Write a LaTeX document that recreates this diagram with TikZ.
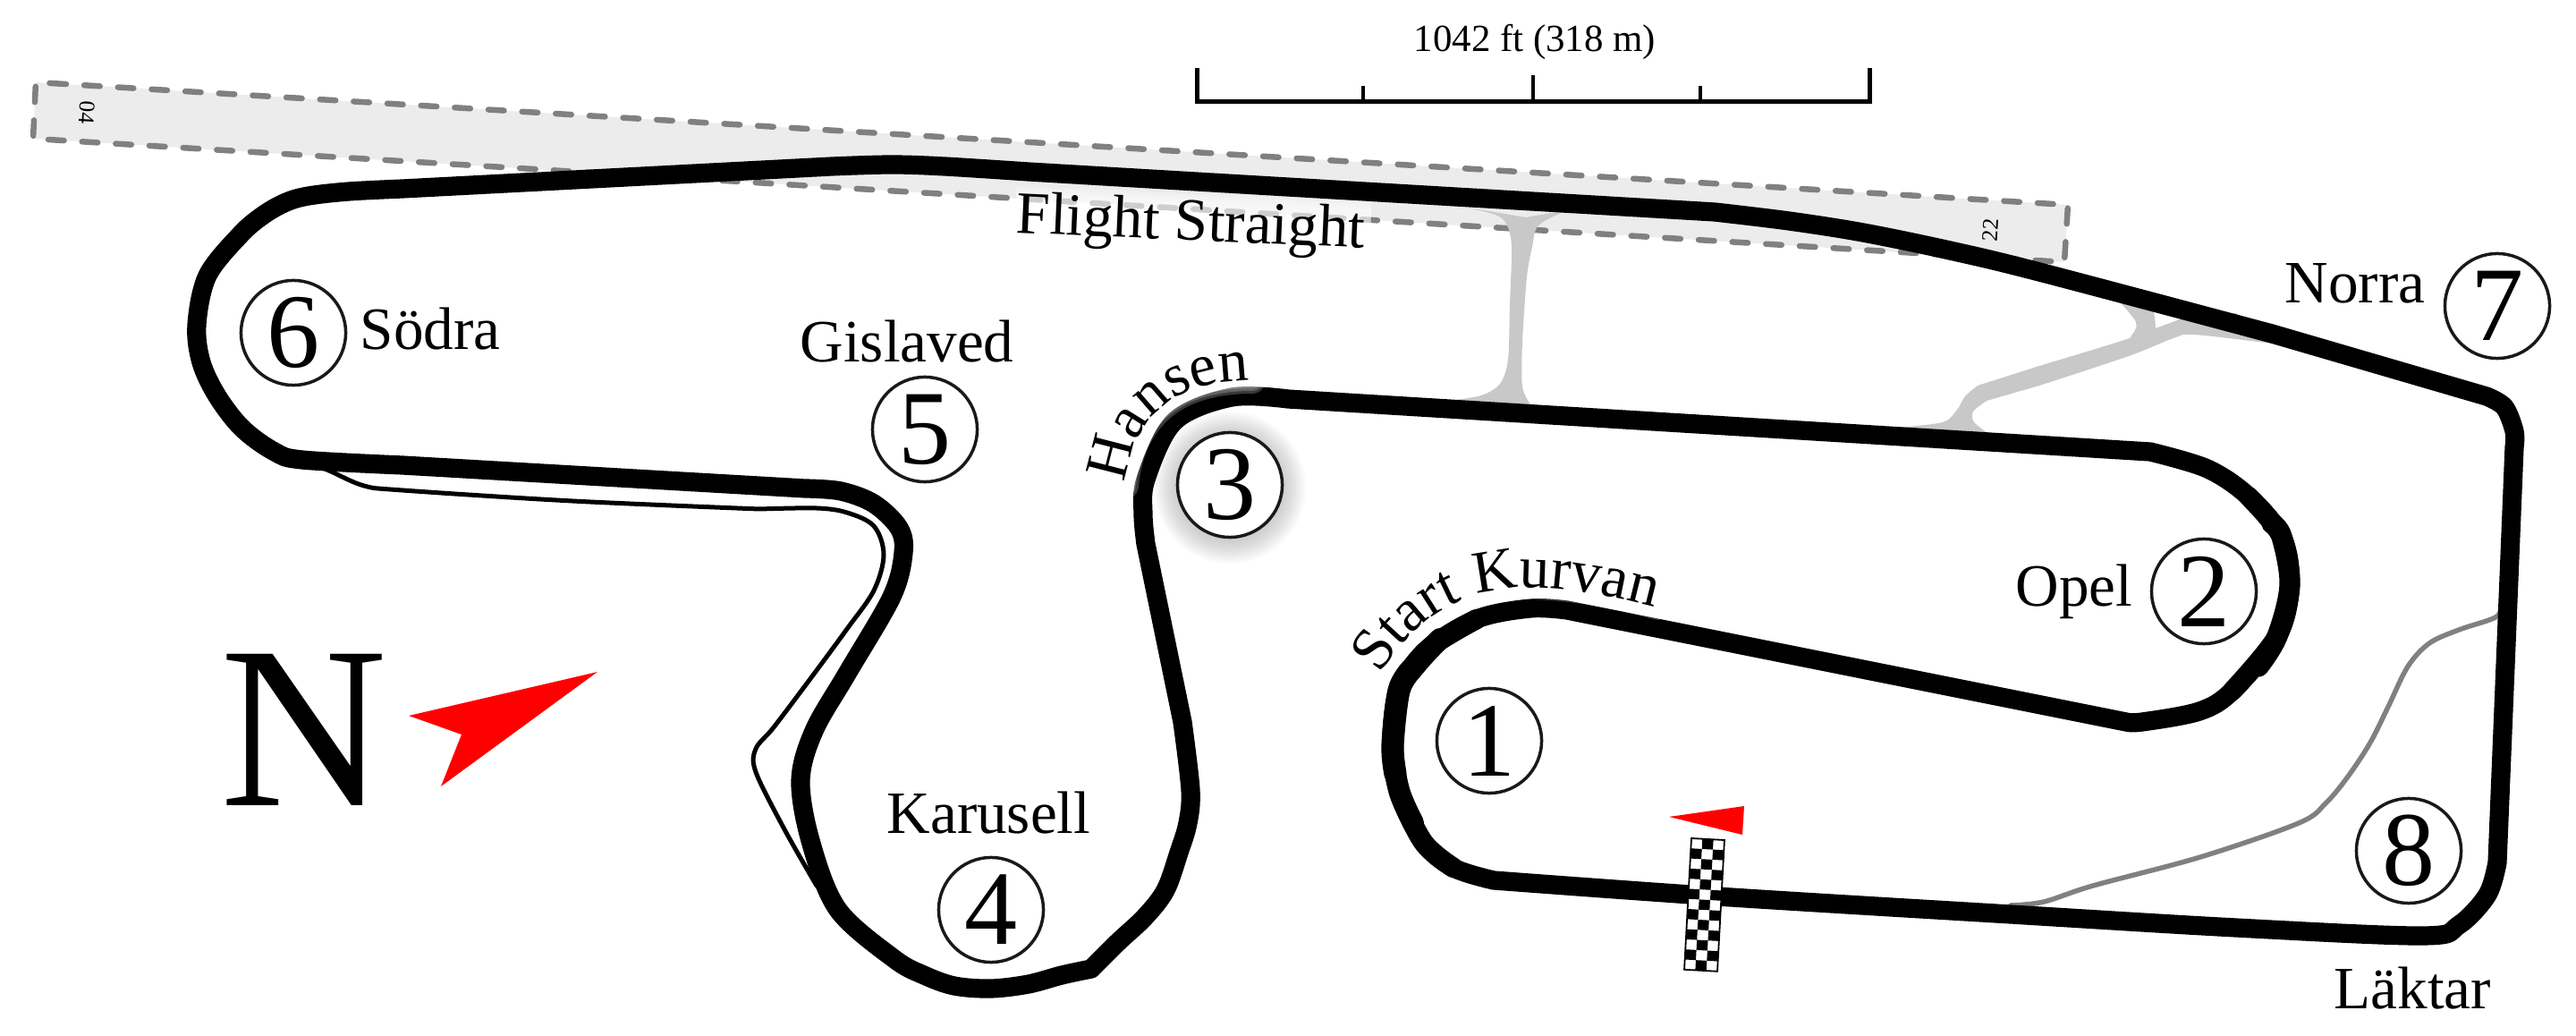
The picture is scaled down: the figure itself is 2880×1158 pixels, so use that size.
\documentclass[tikz,border=0pt]{standalone}
\usepackage{fontspec}
\setmainfont{Liberation Serif}
\usetikzlibrary{decorations.text}
\definecolor{runfill}{HTML}{ECECEC}
\definecolor{rundash}{HTML}{808080}
\definecolor{roadgrey}{HTML}{C8C8C8}
\newcommand{\lblfont}{\fontsize{19.1}{22}\selectfont}
\tikzset{
  track/.style={line width=0.212cm,line join=round,line cap=round},
  turn/.style={circle,draw=black!90,line width=0.035cm,fill=white,inner sep=0pt,outer sep=0pt,minimum size=1.17cm,font=\fontsize{33.6}{36}\selectfont},
  lbl/.style={anchor=base west,inner sep=0pt,font=\lblfont},
  tiny/.style={inner sep=0pt,font=\fontsize{7.2}{8}\selectfont},
  flagred/.style={fill=red,draw=none},
  glow/.style={draw=white,opacity=0.22,line cap=round,fill=none}
}
\begin{document}
\begin{tikzpicture}[x=0.01cm,y=-0.01cm]
\useasboundingbox (0,0) rectangle (2880,1158);
% runway
\fill[runfill] (40,92) -- (2312,229) -- (2308,293) -- (37,155) -- cycle;
\draw[rundash,line width=0.065cm,line cap=round,line join=round,dash pattern=on 0.175cm off 0.202cm]
  (56.5,93) -- (2312,229) -- (2308,293) -- (37,155) -- (40,92) -- cycle;
% service roads
\fill[roadgrey] plot[smooth,tension=0.5] coordinates {(1640,232) (1672,240) (1684,250) (1690,275) (1688,340) (1686,402) (1677,429) (1656,442) (1620,448)}
  -- (1711,452) -- plot[smooth,tension=0.5] coordinates {(1711,452) (1702,432) (1702,383) (1707,310) (1713,276) (1720,252) (1752,235)} -- (1706,243) -- cycle;
\fill[roadgrey] plot[smooth,tension=0.5] coordinates {(2365,332) (2388,360) (2383,375) (2372,381) (2280,409)}
  -- plot[smooth,tension=0.5] coordinates {(2211,431) (2197,443) (2188,458) (2172,472) (2120,478)}
  -- plot[smooth,tension=0.5] coordinates {(2225,486) (2207,472) (2206,460) (2221,448)}
  -- plot[smooth,tension=0.5] coordinates {(2280,431) (2380,398) (2430,378) (2453,374) (2540,384)}
  -- (2500,350) -- (2437,357) -- (2410,367) -- plot[smooth,tension=0.5] coordinates {(2410,367) (2408,349) (2400,330)} -- cycle;
% thin grey road
\draw[rundash,line width=0.055cm,line cap=round,line join=round] plot[smooth,tension=0.55] coordinates {(2248,1012) (2285,1008) (2340,990) (2460,958) (2570,920) (2600,898) (2625,868) (2650,830) (2670,790) (2692,745) (2716,719) (2749,704) (2790,690) (2797,677)};
% pit road
\draw[line width=0.05cm,line join=round,line cap=round] plot[smooth,tension=0.55] coordinates {(345,516) (370,527) (407,543) (450,548) (640,560) (849,569)}
  -- plot[smooth,tension=0.55] coordinates {(849,569) (913,568) (947,573) (977,588) (988,620) (977,660) (947,703) (905,760) (865,813) (845,837) (845,863) (877,927) (913,990)};
% track
\draw[track] plot[smooth,tension=0.55] coordinates {(450,211) (390,214) (345,219) (320,226) (295,240) (269,262) (232,308) (220,363) (225,405) (243,443) (271,479) (307,505) (338,514) (450,520)}
  -- plot[smooth,tension=0.55] coordinates {(900,546) (940,549) (977,563) (1005,590) (1010,618) (997,667) (947,753) (910,817) (895,873) (907,943) (937,1017) (1000,1072) (1033,1090) (1067,1102) (1108,1105) (1150,1100) (1187,1090) (1220,1083)}
  -- plot[smooth,tension=0.55] coordinates {(1220,1083) (1250,1053) (1280,1025) (1303,995) (1318,953) (1328,920) (1331,883) (1322,807)}
  -- plot[smooth,tension=0.55] coordinates {(1281,608) (1278,575) (1281,536) (1313,471) (1377,444) (1440,446)}
  -- plot[smooth,tension=0.55] coordinates {(2404,505) (2468,524) (2514,555) (2551,600) (2560,654) (2546,711) (2496,772) (2459,795) (2395,807) (2377,807)}
  -- plot[smooth,tension=0.55] coordinates {(1752,682) (1711,680) (1651,692) (1596,726) (1564,772) (1557,833) (1564,883) (1591,941) (1625,970) (1670,984)}
  -- plot[smooth,tension=0.55] coordinates {(1670,984) (1920,1002) (2248,1022) (2500,1037) (2709,1046) (2749,1034) (2781,1000) (2792,964)}
  -- plot[smooth,tension=0.55] coordinates {(2811,500) (2811,482) (2800,455) (2780,443)}
  -- plot[smooth,tension=0.55] coordinates {(2540,373) (2280,304) (2180,280) (2083,260) (2000,247) (1917,237)}
  -- plot[smooth,tension=0.55] coordinates {(1150,192) (1056,186) (996,184) (930,186)} -- cycle;
% broader parts of the track
\draw[track,line width=0.225cm] plot[smooth,tension=0.55] coordinates {(1651,692) (1596,726) (1564,772) (1557,833) (1564,883) (1591,941) (1625,970)};
\draw[track,line width=0.24cm] plot[smooth,tension=0.55] coordinates {(1610,714) (1584,742) (1564,772) (1557,833) (1564,883) (1580,920)};
\draw[track,line width=0.252cm] plot[smooth,tension=0.55] coordinates {(1578,748) (1564,772) (1557,833) (1560,865)};
\draw[track,line width=0.222cm] plot[smooth,tension=0.55] coordinates {(2514,555) (2551,600) (2560,654) (2546,711) (2496,772)};
\draw[track,line width=0.232cm] plot[smooth,tension=0.55] coordinates {(2540,585) (2551,600) (2560,654) (2546,711) (2525,745)};
% glows of the labels
\foreach \w in {0.72,0.66,0.6,0.54}
  \draw[glow,line cap=butt,line width=\w cm] (1135,244) -- (1532,261);
\foreach \w in {0.3,0.24,0.18,0.12}
  \draw[glow,line width=\w cm] (1258,543) .. controls (1265,470) and (1310,425) .. (1400,425);
\foreach \w in {0.26,0.2,0.14}
  \draw[glow,line width=\w cm] (1541,757) .. controls (1580,690) and (1640,655) .. (1710,657) .. controls (1760,658) and (1810,668) .. (1853,680);
% shadow of circle 3
\foreach \r in {61,63,...,85}
  \fill[black,opacity=0.015] (1375,545) circle [radius=\r];
% circles
\node[turn] (t1) at (1665,828) {1};
\node[turn] (t2) at (2464,661) {2};
\node[turn] (t3) at (1375,542) {3};
\node[turn] (t4) at (1108,1017) {4};
\node[turn] (t5) at (1034,480) {5};
\node[turn] (t6) at (328,372) {6};
\node[turn] (t7) at (2792,342) {7};
\node[turn] (t8) at (2693,951) {8};
% labels
\node[lbl] (sodra) at (402,391) {Södra};
\node[lbl] (gislaved) at (894,405) {Gislaved};
\node[lbl] (karusell) at (991,932) {Karusell};
\node[lbl] (opel) at (2253,678) {Opel};
\node[lbl] (norra) at (2554,339) {Norra};
\node[lbl] (laktar) at (2609,1127) {Läktar};
\node[lbl,rotate=-2.5] (flight) at (1135,260) {Flight Straight};
\path[decorate,decoration={text along path,text={|\lblfont|Hansen},text align={center}}]
  (1258,543) .. controls (1265,470) and (1310,425) .. (1400,425);
\path[decorate,decoration={text along path,text={|\lblfont|Start Kurvan},text align={center}}]
  (1541,757) .. controls (1580,690) and (1640,655) .. (1710,657) .. controls (1760,658) and (1810,668) .. (1853,680);
\node[tiny,rotate=-93.5] (r04) at (97,126) {04};
\node[tiny,rotate=86.5] (r22) at (2225,257) {22};
% scale
\draw[line width=0.05cm,line join=miter] (1338,76) -- (1338,114) -- (2090,114) -- (2090,76);
\draw[line width=0.045cm] (1524,96) -- (1524,114) (1714,84) -- (1714,114) (1901,96) -- (1901,114);
\node[inner sep=0pt,font=\fontsize{12.2}{14}\selectfont] (scale) at (1716,47) {1042 ft (318 m)};
% north
\node[anchor=base west,inner sep=0pt,font=\fontsize{73.5}{80}\selectfont] (north) at (246,900) {N};
\fill[flagred] (668,751) -- (457,800) -- (516,821) -- (493,879) -- cycle;
% start line
\fill[flagred] (1866,913) -- (1950,901) -- (1948,933) -- cycle;
\begin{scope}[shift={(1891,937)},rotate=-3.1]
  \fill[white] (0,0) rectangle (37,147);
  \foreach \r in {0,...,12}
    \foreach \c in {0,1,2} {
      \pgfmathparse{int(mod(\r+\c,2))}
      \ifnum\pgfmathresult=1
        \fill[black] (\c*37/3,\r*147/13) rectangle ({(\c+1)*37/3},{(\r+1)*147/13});
      \fi
    }
  \draw[line width=0.018cm] (0,0) rectangle (37,147);
\end{scope}
\end{tikzpicture}
\end{document}
